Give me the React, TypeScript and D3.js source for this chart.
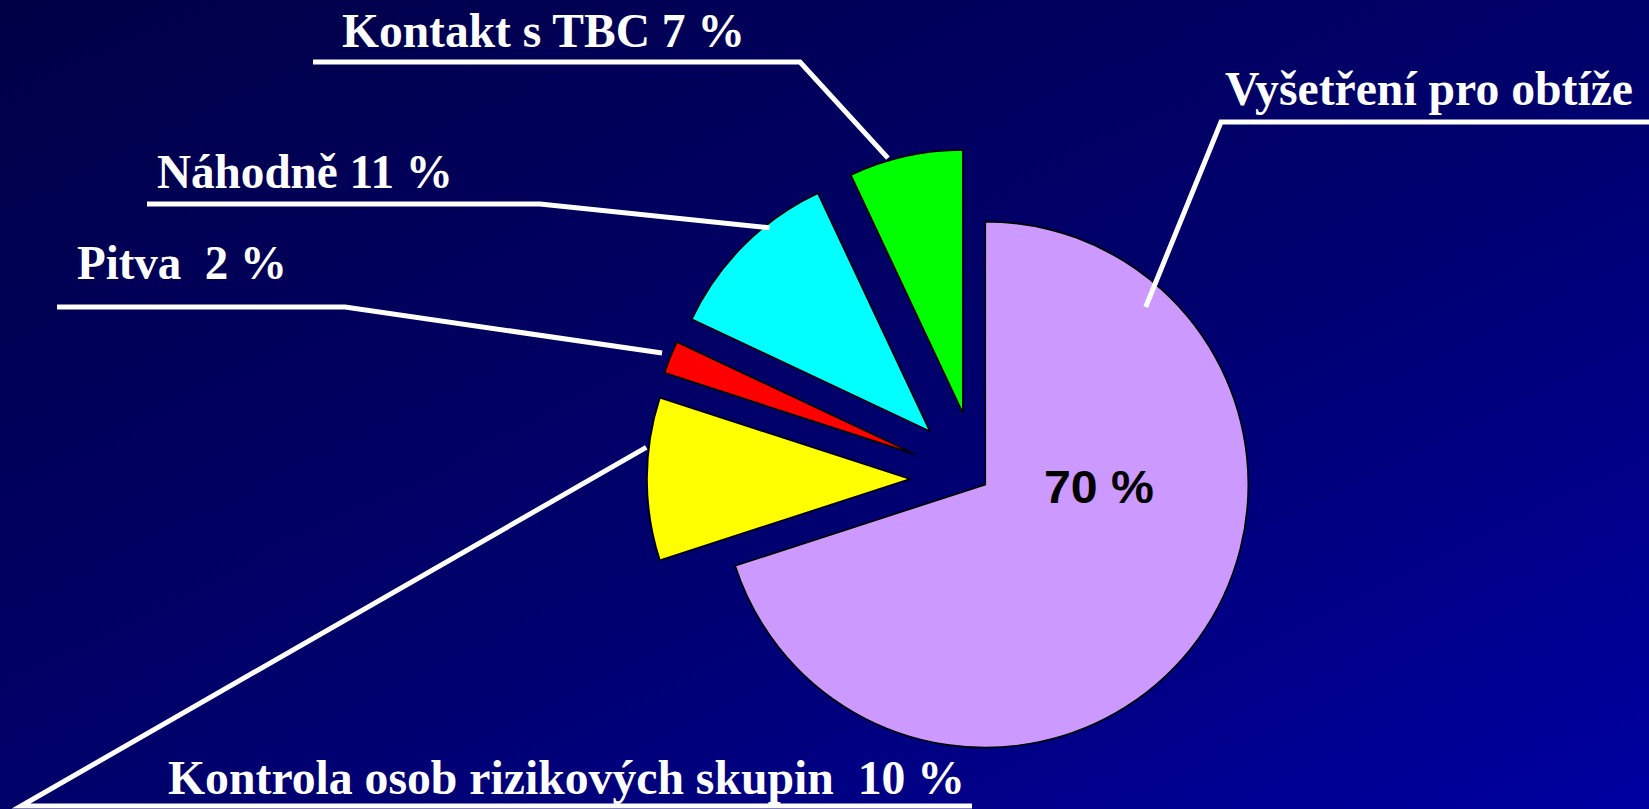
import React from "react";
import * as d3 from "d3";

// ---- data ----
const categories = [
  "Vyšetření pro obtíže",
  "Kontrola osob rizikových skupin",
  "Pitva",
  "Náhodně",
  "Kontakt s TBC",
];
const values = [70, 10, 2, 11, 7];
const labelTexts = [
  "Vyšetření pro obtíže",
  "Kontrola osob rizikových skupin  10 %",
  "Pitva  2 %",
  "Náhodně 11 %",
  "Kontakt s TBC 7 %",
];
const innerLabel = "70 %";

// ---- styles / layout ----
const colors = ["#CC99FF", "#FFFF00", "#FF0000", "#00FFFF", "#00FF00"];
const W = 1649;
const H = 809;
const CX = 977.6;
const CY = 479;
const R = 263;
const explode = [9.5, 67.6, 67.6, 67.6, 67.6];
// leader anchor: fraction inside slice angle, radius multiple
const anchorFrac = [0.167, 0.69, 0.53, 0.67, 0.35];
const anchorRad = [0.91, 1.01, 1.035, 0.985, 1.01];
// label layout: text x, baseline, width; horizontal rule x1, x2, y
const labelLayout = [
  { tx: 1225, ty: 105, tw: 408, lx1: 1660, lx2: 1221, ly: 122 },
  { tx: 168, ty: 794, tw: 797, lx1: 972, lx2: 21, ly: 806 },
  { tx: 77, ty: 279, tw: 210, lx1: 57, lx2: 345, ly: 307 },
  { tx: 157, ty: 188, tw: 296, lx1: 147, lx2: 540, ly: 204 },
  { tx: 342, ty: 47, tw: 403, lx1: 313, lx2: 800, ly: 62 },
];

export default function App() {
  const pie = d3
    .pie<number>()
    .sort(null)
    .value((d) => d)
    .startAngle(0)
    .endAngle(2 * Math.PI);
  const arcs = pie(values);
  const arcGen = d3.arc<d3.PieArcDatum<number>>().innerRadius(0).outerRadius(R);

  const slices = arcs.map((a, i) => {
    const mid = (a.startAngle + a.endAngle) / 2;
    const ox = CX + explode[i] * Math.sin(mid);
    const oy = CY - explode[i] * Math.cos(mid);
    const ang = a.startAngle + anchorFrac[i] * (a.endAngle - a.startAngle);
    const ax = ox + anchorRad[i] * R * Math.sin(ang);
    const ay = oy - anchorRad[i] * R * Math.cos(ang);
    return { a, i, ox, oy, ax, ay };
  });

  return (
    <div style={{ position: "fixed", left: 0, top: 0, width: W, height: H }}>
      <svg width={W} height={H} style={{ display: "block" }}>
        <defs>
          <linearGradient id="bg" x1="0" y1="0" x2="1" y2="1">
            <stop offset="0%" stopColor="#000046" />
            <stop offset="55%" stopColor="#00006E" />
            <stop offset="100%" stopColor="#0000A0" />
          </linearGradient>
        </defs>
        <rect x={0} y={0} width={W} height={H} fill="url(#bg)" />
        {slices.map((s) => (
          <path
            key={categories[s.i]}
            d={arcGen(s.a) || ""}
            transform={`translate(${s.ox},${s.oy})`}
            fill={colors[s.i]}
            stroke="#000"
            strokeWidth={1.6}
            strokeLinejoin="miter"
          />
        ))}
        {slices.map((s) => {
          const L = labelLayout[s.i];
          return (
            <g key={"lbl" + s.i}>
              <polyline
                points={`${L.lx1},${L.ly} ${L.lx2},${L.ly} ${s.ax},${s.ay}`}
                fill="none"
                stroke="#FFFFFF"
                strokeWidth={5}
                strokeLinejoin="miter"
              />
              <text
                x={L.tx}
                y={L.ty}
                fill="#FFFFFF"
                fontFamily="'Liberation Serif', 'Times New Roman', serif"
                fontWeight="bold"
                fontSize={48}
                textLength={L.tw}
                lengthAdjust="spacingAndGlyphs"
                style={{ whiteSpace: "pre" }}
                xmlSpace="preserve"
              >
                {labelTexts[s.i]}
              </text>
            </g>
          );
        })}
        <text
          x={1099}
          y={503}
          textAnchor="middle"
          fill="#000"
          fontFamily="'Liberation Sans', Arial, sans-serif"
          fontWeight="bold"
          fontSize={46}
          textLength={110}
          lengthAdjust="spacingAndGlyphs"
        >
          {innerLabel}
        </text>
      </svg>
    </div>
  );
}
